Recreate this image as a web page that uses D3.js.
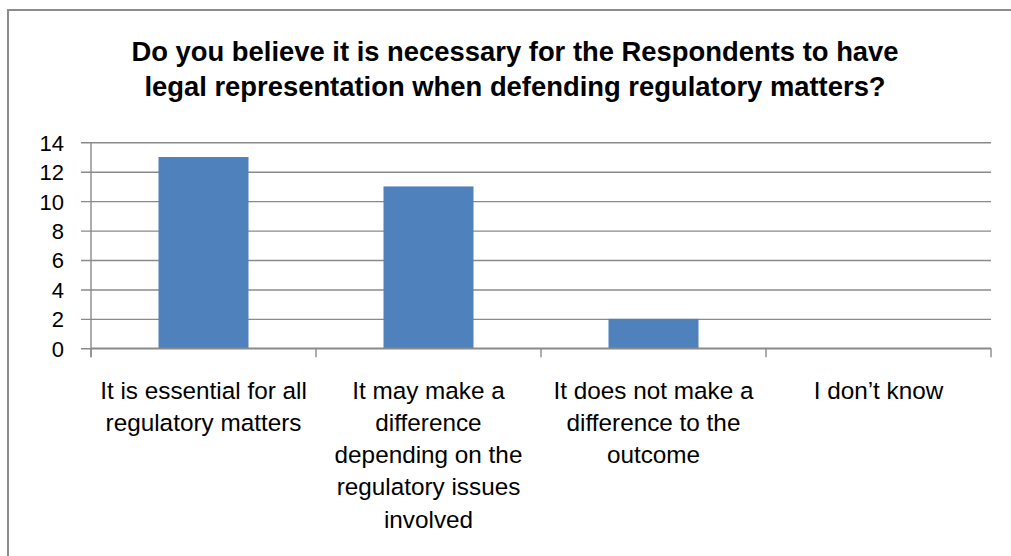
<!DOCTYPE html>
<html>
<head>
<meta charset="utf-8">
<script src="https://cdn.jsdelivr.net/npm/d3@7"></script>
<style>
  html, body { margin: 0; padding: 0; background: #fff; }
  svg { display: block; }
</style>
</head>
<body>
<script>
// Survey responses: number of respondents per answer
const titleLines = [
  "Do you believe it is necessary for the Respondents to have",
  "legal representation when defending regulatory matters?"
];
const categoryLines = [
  ["It is essential for all", "regulatory matters"],
  ["It may make a", "difference", "depending on the", "regulatory issues", "involved"],
  ["It does not make a", "difference to the", "outcome"],
  ["I don\u2019t know"]
];
const categories = categoryLines.map(l => l.join(" "));
const values = [13, 11, 2, 0];
const yTicks = [0, 2, 4, 6, 8, 10, 12, 14];

const W = 1011, H = 556;
const plot = { left: 91, right: 991, top: 142.3, bottom: 348.3 };
const font = "'Liberation Sans', Arial, sans-serif";
const gridColor = "#8a8a8a";

const svg = d3.select("body").append("svg")
  .attr("width", W).attr("height", H);

// chart frame
svg.append("rect")
  .attr("x", 8).attr("y", 10)
  .attr("width", W).attr("height", H)
  .attr("fill", "#fff")
  .attr("stroke", "#8c8c8c").attr("stroke-width", 2);

// title
svg.append("g").selectAll("text").data(titleLines).join("text")
  .attr("x", 515)
  .attr("y", (d, i) => 60.5 + i * 35)
  .attr("text-anchor", "middle")
  .attr("font-family", font)
  .attr("font-weight", "bold")
  .attr("font-size", 27.4)
  .attr("fill", "#000")
  .text(d => d);

const x = d3.scaleBand()
  .domain(categories)
  .range([plot.left, plot.right])
  .paddingInner(0.6)
  .paddingOuter(0.3);

const y = d3.scaleLinear()
  .domain([0, 14])
  .range([plot.bottom, plot.top]);

// horizontal gridlines with short ticks to the left
const yAxis = d3.axisLeft(y)
  .tickValues(yTicks)
  .tickSize(-(plot.right - plot.left))
  .tickSizeOuter(0)
  .tickPadding(0)
  .tickFormat(d3.format("d"));

const yg = svg.append("g")
  .attr("transform", `translate(${plot.left},0)`)
  .call(yAxis);
yg.select(".domain").remove();
yg.selectAll(".tick line")
  .attr("x1", -10)
  .attr("stroke", gridColor)
  .attr("stroke-width", 1.4);
yg.selectAll(".tick text")
  .attr("x", -27)
  .attr("dy", "0.36em")
  .attr("font-family", font)
  .attr("font-size", 22)
  .attr("fill", "#000");

// bars
svg.append("g").selectAll("rect").data(values).join("rect")
  .attr("x", (d, i) => x(categories[i]))
  .attr("width", x.bandwidth())
  .attr("y", d => y(d))
  .attr("height", d => y(0) - y(d))
  .attr("fill", "#4f81bd");

// value axis line
svg.append("line")
  .attr("x1", plot.left).attr("x2", plot.left)
  .attr("y1", y(14)).attr("y2", y(0) + 9)
  .attr("stroke", gridColor).attr("stroke-width", 1.4);

// category axis line with boundary ticks
svg.append("line")
  .attr("x1", plot.left).attr("x2", plot.right)
  .attr("y1", y(0)).attr("y2", y(0))
  .attr("stroke", gridColor).attr("stroke-width", 1.4);
const step = x.step();
const boundaries = d3.range(categories.length + 1).map(i => plot.left + i * step);
svg.append("g").selectAll("line").data(boundaries).join("line")
  .attr("x1", d => d).attr("x2", d => d)
  .attr("y1", y(0)).attr("y2", y(0) + 9)
  .attr("stroke", gridColor).attr("stroke-width", 1.4);

// wrapped category labels
const labels = svg.append("g").selectAll("text").data(categoryLines).join("text")
  .attr("text-anchor", "middle")
  .attr("font-family", font)
  .attr("font-size", 24.3)
  .attr("fill", "#000");
labels.each(function(lines, i) {
  const cx = x(categories[i]) + x.bandwidth() / 2;
  d3.select(this).selectAll("tspan").data(lines).join("tspan")
    .attr("x", cx)
    .attr("y", (d, j) => 398.5 + j * 32.3)
    .text(d => d);
});
</script>
</body>
</html>
